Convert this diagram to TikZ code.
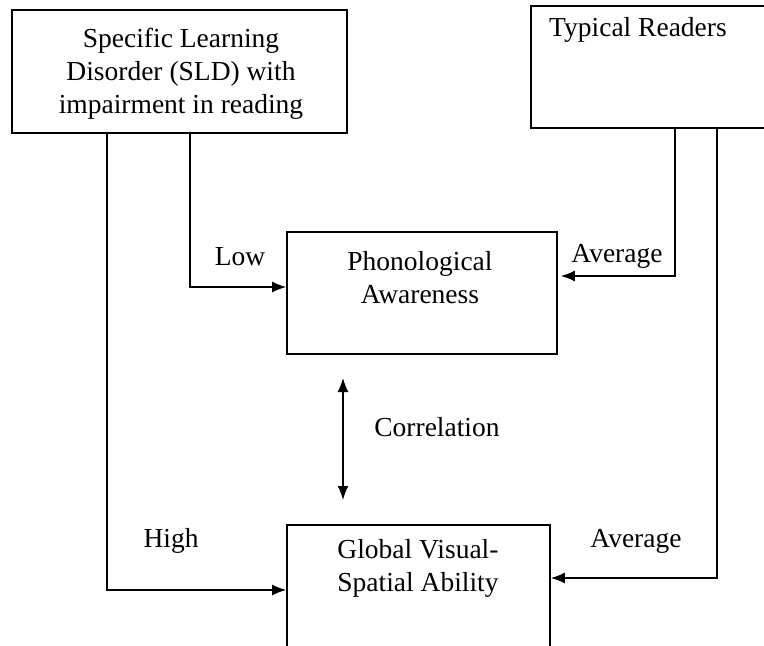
\documentclass[tikz,border=0pt]{standalone}
\usepackage{fontspec}
\setmainfont{Liberation Serif}
\usetikzlibrary{arrows.meta}

\begin{document}
\begin{tikzpicture}[x=1pt,y=-1pt,
   box/.style={draw,line width=1.6pt,inner sep=0pt},
   txt/.style={align=center,inner sep=0pt,font=\fontsize{27.5}{33}\selectfont},
   link/.style={line width=1.6pt,-{Latex[length=14pt,width=11pt]}},
   both/.style={line width=1.6pt,{Latex[length=14pt,width=11pt]}-{Latex[length=14pt,width=11pt]}}]
   \useasboundingbox (0,0) rectangle (764,646);

   \node[box,minimum width=335pt,minimum height=123pt] (sld) at (179.5,71.5) {};
   \node[box,minimum width=244pt,minimum height=122pt] (typ) at (653,67) {};
   \node[box,minimum width=270pt,minimum height=122pt] (phon) at (422,293) {};
   \node[box,minimum width=263pt,minimum height=130pt] (glob) at (418.5,590) {};

   \node[txt] (sldtext) at (181,74) {Specific Learning\\Disorder (SLD) with\\impairment in reading};
   \node[txt] (typtext) at (638,30) {Typical Readers};
   \node[txt] (phontext) at (420,278) {Phonological\\Awareness};
   \node[txt] (globtext) at (418,568) {Global Visual-\\Spatial Ability};

   \node[txt] (low) at (240,257) {Low};
   \node[txt] (high) at (171,541) {High};
   \node[txt] (avg1) at (617,256) {Average};
   \node[txt] (avg2) at (636,541) {Average};
   \node[txt] (corr) at (437,427) {Correlation};

   \coordinate (c1) at (343,378);
   \coordinate (c2) at (343,500);

   \draw[link] ([xshift=10.5pt]sld.south) |- ([yshift=6pt]phon.west);
   \draw[link] ([xshift=-72.5pt]sld.south) |- (glob.west);
   \draw[link,shorten >=3pt] ([xshift=22pt]typ.south) |- ([yshift=17pt]phon.east);
   \draw[link] ([xshift=64pt]typ.south) |- ([yshift=12pt]glob.east);
   \draw[both] (c1) -- (c2);
\end{tikzpicture}
\end{document}
